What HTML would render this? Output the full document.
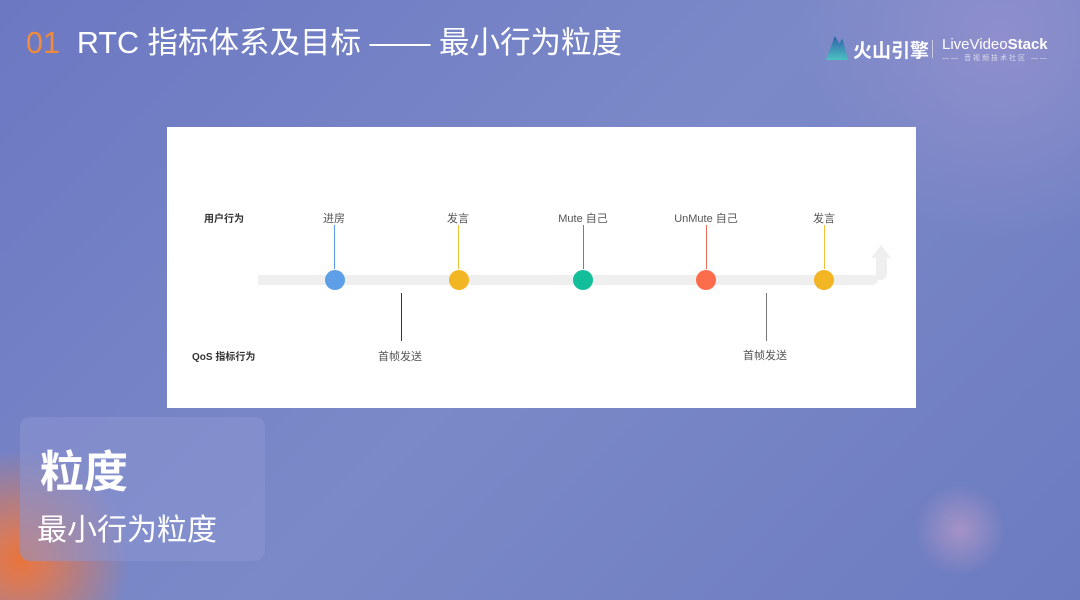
<!DOCTYPE html>
<html><head><meta charset="utf-8"><style>
body{margin:0;width:1080px;height:600px;overflow:hidden;position:relative;font-family:"Liberation Sans","Noto Sans CJK SC",sans-serif;
background:radial-gradient(circle at 20px 560px,#e8743a 0,#d87a5a 25px,rgba(120,130,200,0) 110px),radial-gradient(circle at 960px 530px,rgba(200,160,200,.6) 0,rgba(120,130,200,0) 45px),radial-gradient(circle at 1000px 40px,#8f8fcc 0,rgba(120,130,200,0) 200px),linear-gradient(135deg,#6c78c2,#7b89c8 50%,#6c7bc0);}
.a{position:absolute;white-space:nowrap}
.t{font-size:11px;color:#555;transform:translateX(-50%)}
</style></head><body>
<div class="a" style="left:26px;top:18px;font-size:30.5px;color:#fff"><span style="color:#f08a3c">01</span>&nbsp; RTC 指标体系及目标 —— 最小行为粒度</div>
<div class="a" style="left:826px;top:36px;width:22px;height:24px;background:linear-gradient(#2f5fa8,#4bc0c0);clip-path:polygon(0 100%,40% 0,60% 30%,75% 10%,100% 100%)"></div>
<div class="a" style="left:853px;top:36px;font-size:19px;font-weight:bold;color:#fff">火山引擎</div>
<div class="a" style="left:932px;top:40px;width:1px;height:18px;background:#ccd"></div>
<div class="a" style="left:942px;top:36px;font-size:15px;color:#fff">LiveVideo<b>Stack</b></div>
<div class="a" style="left:942px;top:53px;font-size:7px;color:#dde;letter-spacing:2px">—— 音视频技术社区 ——</div>
<div class="a" style="left:167px;top:127px;width:749px;height:281px;background:#fff"></div>
<div class="a" style="left:258px;top:275px;width:620px;height:10px;background:#efefef;border-radius:0 8px 8px 0"></div>
<div class="a" style="left:876px;top:256px;width:11px;height:24px;background:#efefef;border-radius:0 0 7px 0"></div>
<div class="a" style="left:871px;top:245px;width:0;height:0;border-left:10.5px solid transparent;border-right:10.5px solid transparent;border-bottom:13px solid #efefef"></div>
<div class="a" style="left:204px;top:210px;font-size:10px;font-weight:bold;color:#333">用户行为</div>
<div class="a" style="left:192px;top:348px;font-size:10px;font-weight:bold;color:#333">QoS 指标行为</div>
<div class="a t" style="left:334px;top:210px">进房</div>
<div class="a t" style="left:458px;top:210px">发言</div>
<div class="a t" style="left:583px;top:210px">Mute 自己</div>
<div class="a t" style="left:706px;top:210px">UnMute 自己</div>
<div class="a t" style="left:824px;top:210px">发言</div>
<div class="a" style="left:334px;top:225px;width:1px;height:44px;background:#5a9ce8"></div>
<div class="a" style="left:458px;top:225px;width:1px;height:44px;background:#f3c33a"></div>
<div class="a" style="left:583px;top:225px;width:1px;height:44px;background:#1aa98c"></div>
<div class="a" style="left:706px;top:225px;width:1px;height:44px;background:#f06a5a"></div>
<div class="a" style="left:824px;top:225px;width:1px;height:44px;background:#f3c33a"></div>
<div class="a" style="left:325px;top:270px;width:20px;height:20px;border-radius:50%;background:#5e9fe8"></div>
<div class="a" style="left:449px;top:270px;width:20px;height:20px;border-radius:50%;background:#f2b524"></div>
<div class="a" style="left:573px;top:270px;width:20px;height:20px;border-radius:50%;background:#12bf9a"></div>
<div class="a" style="left:696px;top:270px;width:20px;height:20px;border-radius:50%;background:#fd6d4c"></div>
<div class="a" style="left:814px;top:270px;width:20px;height:20px;border-radius:50%;background:#f2b524"></div>
<div class="a" style="left:401px;top:293px;width:1px;height:48px;background:#333"></div>
<div class="a" style="left:766px;top:293px;width:1px;height:48px;background:#777"></div>
<div class="a t" style="left:400px;top:348px">首帧发送</div>
<div class="a t" style="left:765px;top:347px">首帧发送</div>
<div class="a" style="left:20px;top:417px;width:245px;height:144px;background:rgba(140,150,210,.55);border-radius:10px"></div>
<div class="a" style="left:40px;top:436px;font-size:44px;font-weight:bold;color:#fff">粒度</div>
<div class="a" style="left:37px;top:505px;font-size:30px;color:#fff">最小行为粒度</div>
</body></html>
